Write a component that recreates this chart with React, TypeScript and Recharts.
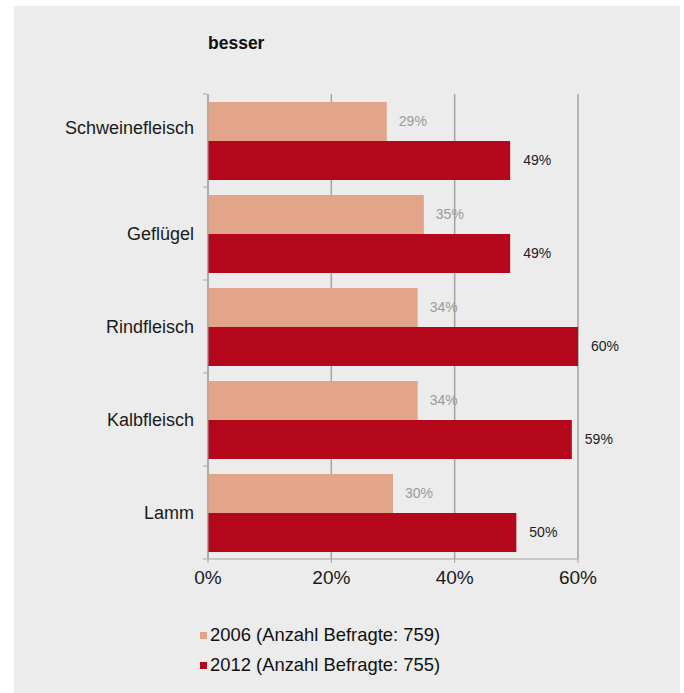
import { BarChart, Bar, XAxis, YAxis, CartesianGrid, LabelList } from 'recharts'

const categories = ['Schweinefleisch', 'Geflügel', 'Rindfleisch', 'Kalbfleisch', 'Lamm']
const values2006 = [29, 35, 34, 34, 30]
const values2012 = [49, 49, 60, 59, 50]
const xTicks = [0, 20, 40, 60]
const seriesNames = ['2006 (Anzahl Befragte: 759)', '2012 (Anzahl Befragte: 755)']

const data = categories.map((name, i) => ({ name, y2006: values2006[i], y2012: values2012[i] }))

const FONT = '"Liberation Sans", Arial, Helvetica, sans-serif'
const LIGHT = '#e3a58a'
const DARK = '#b5071c'
const AXIS = '#a3a3a3'

const PLOT_TOP = 94
const PLOT_BOTTOM = 559
const BAND = (PLOT_BOTTOM - PLOT_TOP) / categories.length

// tick marks sit on the band borders, not the band centres
function CategoryTick(props: any) {
  const { x, y, payload, index } = props
  const last = index === categories.length - 1
  const ax = x + 13
  return (
    <g>
      <line x1={ax - 4} x2={ax} y1={y - BAND / 2} y2={y - BAND / 2} stroke={AXIS} />
      {last && <line x1={ax - 4} x2={ax} y1={y + BAND / 2} y2={y + BAND / 2} stroke={AXIS} />}
      <text x={x} y={index === 0 ? y - 13 : y} dy="0.35em" textAnchor="end" fill="#1a1a1a" fontSize={18} fontFamily={FONT}>
        {payload.value}
      </text>
    </g>
  )
}

export default function App() {
  return (
    <div style={{ position: 'absolute', left: 0, top: 0, width: 684, height: 693, background: '#fff' }}>
      <div style={{ position: 'absolute', left: 14, top: 6, width: 666, height: 687, background: '#ebeceb' }} />
      <div
        style={{
          position: 'absolute',
          left: 208,
          top: 33,
          fontFamily: FONT,
          fontWeight: 'bold',
          fontSize: 17.5,
          color: '#111',
        }}
      >
        besser
      </div>
      <div style={{ position: 'absolute', left: 0, top: 0 }}>
        <BarChart
          width={684}
          height={693}
          data={data}
          layout="vertical"
          margin={{ top: PLOT_TOP, right: 106, bottom: 693 - PLOT_BOTTOM - 30, left: 0 }}
          barGap={0}
          barSize={39}
        >
          <CartesianGrid horizontal={false} vertical stroke={AXIS} strokeWidth={1.5} />
          <XAxis
            type="number"
            domain={[0, 60]}
            ticks={xTicks}
            tickFormatter={(v) => `${v}%`}
            height={30}
            stroke={AXIS}
            tickSize={4}
            tickMargin={8}
            tick={{ fill: '#1a1a1a', fontSize: 19, fontFamily: FONT }}
          />
          <YAxis
            type="category"
            dataKey="name"
            width={208}
            stroke={AXIS}
            tickLine={false}
            tickSize={6}
            tickMargin={8}
            tick={<CategoryTick />}
            interval={0}
          />
          <Bar dataKey="y2006" fill={LIGHT} isAnimationActive={false}>
            <LabelList
              dataKey="y2006"
              position="right"
              offset={12}
              formatter={(v: any) => `${v}%`}
              style={{ fill: '#9a9a9a', fontSize: 14, fontFamily: FONT }}
            />
          </Bar>
          <Bar dataKey="y2012" fill={DARK} isAnimationActive={false}>
            <LabelList
              dataKey="y2012"
              position="right"
              offset={13}
              formatter={(v: any) => `${v}%`}
              style={{ fill: '#222', fontSize: 14, fontFamily: FONT }}
            />
          </Bar>
        </BarChart>
      </div>
      {seriesNames.map((s, i) => (
        <div
          key={s}
          style={{
            position: 'absolute',
            left: 200,
            top: 624 + i * 30,
            display: 'flex',
            alignItems: 'center',
            fontFamily: FONT,
            fontSize: 18.4,
            color: '#111',
            whiteSpace: 'nowrap',
          }}
        >
          <span style={{ display: 'inline-block', width: 7, height: 7, background: i === 0 ? LIGHT : DARK, marginRight: 3 }} />
          {s}
        </div>
      ))}
    </div>
  )
}
